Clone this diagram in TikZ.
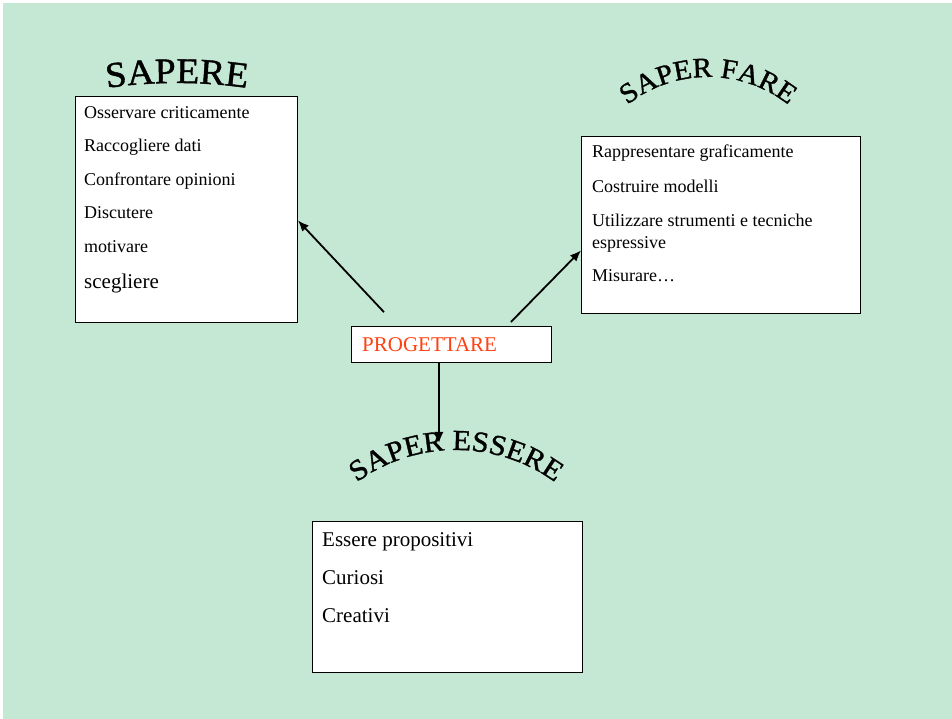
\documentclass[tikz,border=0pt]{standalone}
\usepackage{fontspec}
\setmainfont{Liberation Serif}
\newfontfamily\wordart[FakeStretch=1.05,FakeBold=1.2]{Liberation Serif}
\usepackage{xcolor}
\usepackage{tikz}
\usetikzlibrary{calc}
\usetikzlibrary{positioning,arrows.meta,decorations.text}
\definecolor{fondo}{RGB}{197,232,212}
\definecolor{progrosso}{RGB}{255,64,16}

\begin{document}
\begin{tikzpicture}[x=1pt,y=1pt,
	box/.style={draw,fill=white,line width=0.9pt,anchor=north west,inner sep=0pt},
	voce/.style={anchor=base west,inner sep=0pt,font=\fontsize{18}{21}\selectfont},
	vocegrande/.style={anchor=base west,inner sep=0pt,font=\fontsize{21}{24}\selectfont},
	freccia/.style={-{Latex[length=11pt,width=9pt]},line width=1.8pt}]
	\useasboundingbox (0,0) rectangle (952,719);
	\fill[fondo] (3,0) rectangle (952,716);
	% riquadri
	\node[box,minimum width=222pt,minimum height=226pt] (sapere) at (75,623) {};
	\node[box,minimum width=279pt,minimum height=177pt] (fare) at (581,583) {};
	\node[box,minimum width=200pt,minimum height=36pt] (prog) at (351,393) {};
	\node[box,minimum width=270pt,minimum height=151pt] (essere) at (312,198) {};
	% testi
	\node[voce] (s1) at (84,600) {Osservare criticamente};
	\node[voce] (s2) at (84,567) {Raccogliere dati};
	\node[voce] (s3) at (84,533) {Confrontare opinioni};
	\node[voce] (s4) at (84,500) {Discutere};
	\node[voce] (s5) at (84,466) {motivare};
	\node[vocegrande] (s6) at (84,430) {scegliere};
	\node[voce] (f1) at (592,561) {Rappresentare graficamente};
	\node[voce] (f2) at (592,526) {Costruire modelli};
	\node[voce] (f3) at (592,492) {Utilizzare strumenti e tecniche};
	\node[voce] (f4) at (592,470) {espressive};
	\node[voce] (f5) at (592,437) {Misurare\ldots};
	\node[vocegrande] (e1) at (322,172) {Essere propositivi};
	\node[vocegrande] (e2) at (322,134) {Curiosi};
	\node[vocegrande] (e3) at (322,96) {Creativi};
	\node[vocegrande,text=progrosso] (p1) at (362,367) {PROGETTARE};
	% titoli curvi
	\path[decorate,decoration={text along path,text align=center,
		text={|\wordart\fontsize{36}{39}\selectfont|SAPERE}}]
		([shift={(100:500)}]177,136) arc[start angle=100,end angle=80,radius=500];
	\path[decorate,decoration={text along path,text align=center,
		text={|\wordart\fontsize{28}{31}\selectfont|SAPER FARE}}]
		([shift={(140:130)}]708,512) arc[start angle=140,end angle=40,radius=130];
	\path[decorate,decoration={text along path,text align=center,
		text={|\wordart\fontsize{29}{32}\selectfont|SAPER ESSERE}}]
		([shift={(130:168)}]456,101) arc[start angle=130,end angle=50,radius=168];
	% frecce
	\coordinate (punta) at (439,276);
	\draw[freccia,shorten <=19pt] ([xshift=46pt]prog.north west) -- ([yshift=-11pt]sapere.east);
	\draw[freccia,shorten <=5.6pt] ([xshift=156pt]prog.north west) -- ([yshift=-25.5pt]fare.west);
	\draw[freccia] ([xshift=88pt]prog.south west) -- (punta);
\end{tikzpicture}
\end{document}
